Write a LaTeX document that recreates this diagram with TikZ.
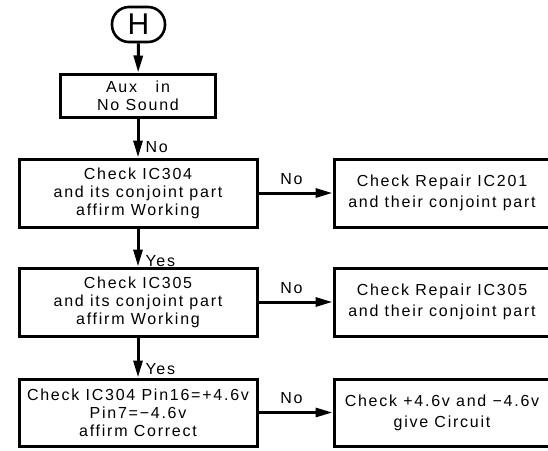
\documentclass[tikz,border=0pt]{standalone}
\usepackage{fontspec}
\setmainfont{Liberation Sans}[LetterSpace=11]
\usetikzlibrary{positioning,arrows.meta}

\tikzset{
  box/.style={draw, line width=3pt, minimum width=238pt, minimum height=68pt,
    align=center, inner sep=0pt, font=\fontsize{16}{18}\selectfont,
    execute at begin node={\rule{0pt}{20pt}}},
  rbox/.style={box, minimum width=216pt, font=\fontsize{16}{21}\selectfont,
    execute at begin node={\rule{0pt}{17.5pt}}},
  arr/.style={line width=3pt, -{Triangle[length=17pt,width=9pt]}},
  lbl/.style={font=\fontsize{16}{17.5}\selectfont, inner sep=0pt}
}

\begin{document}
\begin{tikzpicture}[x=1pt,y=-1pt]
  \useasboundingbox (0,0) rectangle (548,450);
  % start mark
  \node[draw, line width=2.6pt, rounded corners=17pt, minimum width=53pt, minimum height=35pt,
    inner sep=0pt, font=\fontsize{30}{30}\selectfont] (h) at (138.5,24.5) {H};
  \node[box, minimum width=155pt, minimum height=43pt] (aux) at (138,95.5) {Aux\ \ \ in\\No Sound};
  % left column
  \node[box] (ic304) at (138,193) {Check IC304\\and its conjoint part\\affirm Working};
  \node[box] (ic305) at (138,302) {Check IC305\\and its conjoint part\\affirm Working};
  \node[box, minimum height=67pt] (pins) at (138,412.5) {Check IC304 Pin16=+4.6v\\Pin7=−4.6v\\affirm Correct};
  % right column
  \node[rbox] (rep201) at (442,193) {Check Repair IC201\\and their conjoint part};
  \node[rbox] (rep305) at (442,302) {Check Repair IC305\\and their conjoint part};
  \node[rbox, minimum height=67pt] (supply) at (442,412.5) {Check +4.6v and −4.6v\\give Circuit};
  % connectors
  \draw[arr] (h) -- (aux);
  \draw[arr] (aux) -- node[lbl, pos=0.72, right=6pt] {No} (ic304);
  \draw[arr] (ic304) -- node[lbl, pos=0.85, right=6pt] {Yes} (ic305);
  \draw[arr] (ic305) -- node[lbl, pos=0.8, right=6pt] {Yes} (pins);
  \draw[arr] (ic304) -- node[lbl, above=7pt, xshift=-4pt] {No} (rep201);
  \draw[arr] (ic305) -- node[lbl, above=7pt, xshift=-4pt] {No} (rep305);
  \draw[arr] (pins) -- node[lbl, above=7pt, xshift=-4pt] {No} (supply);
\end{tikzpicture}
\end{document}
